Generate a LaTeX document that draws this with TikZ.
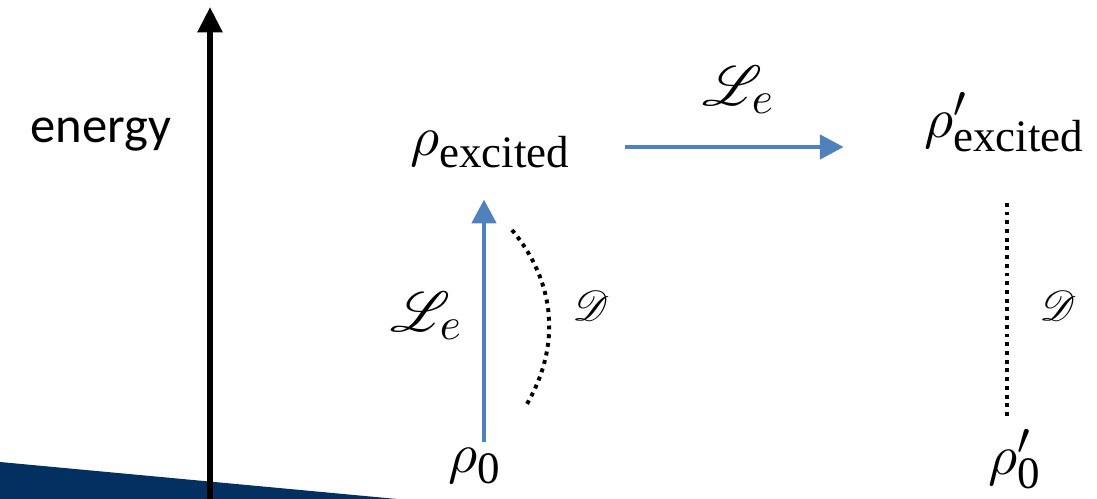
\documentclass[tikz,border=0pt]{standalone}
\usepackage{fontspec}
\setmainfont{Liberation Serif}
\newfontfamily\energyfont{Carlito}
\usepackage{mathrsfs}
\DeclareFontShape{OML}{cmm}{m}{it}{<->cmmi10}{}
\DeclareFontShape{OMS}{cmsy}{m}{n}{<->cmsy10}{}
\DeclareFontFamily{U}{rsfs}{\skewchar\font127 }
\DeclareFontShape{U}{rsfs}{m}{n}{<->rsfs10}{}
\DeclareMathSizes{40}{40}{32}{24}
\usetikzlibrary{arrows.meta,positioning,calc}
\definecolor{slideNavy}{RGB}{3,48,97}
\definecolor{slideBlue}{RGB}{79,129,189}
\definecolor{slideInk}{RGB}{0,0,0}

\tikzset{
  rhostate/.style={inner sep=0pt, font=\fontsize{40}{40}\selectfont},
  genlabel/.style={inner sep=0pt, font=\fontsize{40}{40}\selectfont},
  disslabel/.style={inner sep=0pt, font=\fontsize{30}{30}\selectfont},
  excite/.style={draw=slideBlue, line width=3.5pt,
    -{Triangle[length=17pt, width=17pt]}},
  decay/.style={draw=slideInk, line width=2.8pt, line cap=butt,
    dash pattern=on 2.8pt off 3.4pt},
  energyaxis/.style={draw=slideInk, line width=4pt,
    -{Triangle[length=18pt, width=17pt]}}
}

\begin{document}
\begin{tikzpicture}[x=0.025cm, y=-0.025cm]
    \useasboundingbox (0,0) rectangle (1097,499);
    \fill[slideNavy] (0,462) -- (397,499) -- (0,499) -- cycle;

    \coordinate (axisFoot) at (210,499);
    \coordinate (axisTip) at (210,7);
    \draw[energyaxis] (axisFoot) -- (axisTip);
    \node[inner sep=0pt, anchor=base, font=\energyfont\fontsize{36}{36}\selectfont]
      (energy) at (101,142) {energy};

    \node[rhostate] (rhoex) at (490,150) {$\rho_{\mathrm{excited}}$};
    \node[rhostate] (rhoexp) at (1004,122) {$\rho'_{\mathrm{excited}}$};
    \node[rhostate] (rho0) at (475,466) {$\rho_{\mathrm{0}}$};
    \node[rhostate] (rhop0) at (1015,459) {$\rho'_{\mathrm{0}}$};

    \coordinate (exOut) at ($(rhoex.east)+(0,-3)$);
    \draw[excite, shorten <=39pt, shorten >=57pt]
      (exOut) -- (exOut -| rhoexp.west);
    \node[genlabel] (genTop) at (738,90) {$\mathscr{L}_e$};

    \draw[excite, shorten <=4pt, shorten >=22pt]
      ($(rho0.north)+(9,0)$) -- ($(rho0.north |- rhoex.south)+(9,0)$);
    \node[genlabel] (genLeft) at (426,316) {$\mathscr{L}_e$};

    \coordinate (arcTop) at (512,230);
    \coordinate (arcBot) at (527,404);
    \draw[decay] (arcTop) to[bend left=35] (arcBot);
    \node[disslabel] (dissLeft) at (591,306) {$\mathscr{D}$};

    \draw[decay, shorten <=36pt, shorten >=6pt]
      ($(rhoexp.south)+(3,0)$) -- ($(rhoexp.south |- rhop0.north)+(3,0)$);
    \node[disslabel] (dissRight) at (1058,306) {$\mathscr{D}$};
\end{tikzpicture}
\end{document}
